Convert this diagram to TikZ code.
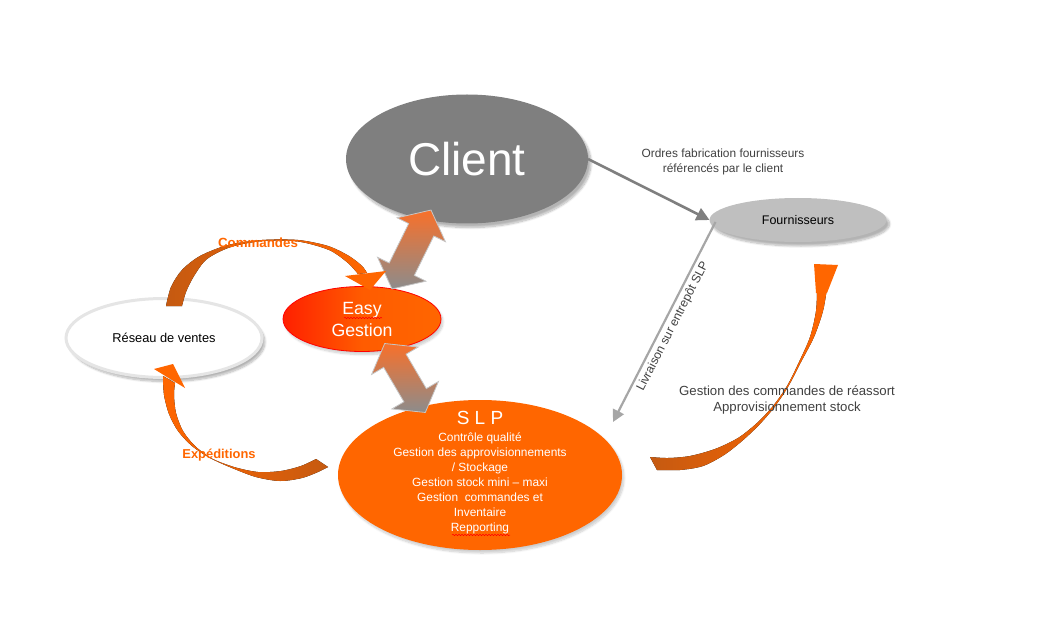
\documentclass[tikz,border=0pt]{standalone}
\usepackage{fontspec}
\setmainfont{Liberation Sans}
\usetikzlibrary{shapes.geometric,arrows.meta,shadows.blur,decorations.pathmorphing,calc}
\definecolor{cgray}{HTML}{7F7F7F}
\definecolor{fgray}{HTML}{BFBFBF}
\definecolor{orangeA}{HTML}{FF6600}
\definecolor{orangeD}{HTML}{C55A11}
\definecolor{redA}{HTML}{FF2000}
\definecolor{txtgray}{HTML}{404040}
\definecolor{lgray}{HTML}{A6A6A6}
\definecolor{arrgray}{HTML}{8C8C8C}
\definecolor{arrorange}{HTML}{F8702A}
\newcommand{\fsz}[2]{\fontsize{#1}{#2}\selectfont}
\begin{document}
\begin{tikzpicture}[x=1pt,y=-1pt,
  ell/.style={ellipse, inner sep=0pt, outer sep=0pt},
  softshadow/.style={blur shadow={shadow xshift=3pt, shadow yshift=-4pt, shadow opacity=30, shadow blur steps=10}},
  dblarrow/.style={top color=arrorange, bottom color=arrgray, draw=gray!45, line width=0.8pt, line join=miter},
  grayarrow/.style={draw=cgray, line width=2.6pt, -{Triangle[length=13pt,width=13pt]}},
  livarrow/.style={draw=lgray, line width=2.2pt, -{Triangle[length=12pt,width=12pt]}},
  squiggle/.style={draw=red, line width=0.5pt, decorate, decoration={snake, amplitude=0.7pt, segment length=3pt}},
  olabel/.style={text=orangeA, font=\bfseries\fsz{13.3}{16}},
  glabel/.style={text=txtgray, align=center}]
\useasboundingbox (0,0) rectangle (1043,636);

% ---------- ellipses ----------
\node[ell, fill=cgray, minimum width=242pt, minimum height=129pt, softshadow,
      text=white, font=\fsz{46}{50}] (client) at (467,159) {Client};
\node[ell, fill=fgray, minimum width=177pt, minimum height=44pt, softshadow,
      font=\fsz{12.5}{15}] (fourn) at (798,220) {Fournisseurs};
\node[ell, fill=white, draw=gray!20, line width=3pt, minimum width=196pt, minimum height=79pt,
      softshadow, font=\fsz{12.8}{15}] (reseau) at (164,338) {Réseau de ventes};
\node[ell, fill=orangeA, minimum width=284pt, minimum height=150pt,
      blur shadow={shadow xshift=2pt, shadow yshift=-3pt, shadow opacity=20, shadow blur steps=8}] (slp) at (480,475) {};
\node[text=white, font=\fsz{19}{22}, inner sep=0pt] (slptitle) at (480,418) {S L P};
\node[text=white, align=center, font=\fsz{11.9}{15}, inner sep=0pt] (slpbody) at (480,483)
  {Contrôle qualité\\Gestion des approvisionnements\\/ Stockage\\Gestion stock mini – maxi\\Gestion\ \ commandes et\\Inventaire\\Repporting};
\node[ell, left color=redA, right color=orangeA, middle color=orangeA!85!redA, draw=red, line width=0.8pt,
      minimum width=158pt, minimum height=65pt, text=white, align=center, font=\fsz{17.7}{22},
      blur shadow={shadow xshift=2pt, shadow yshift=-3pt, shadow opacity=20, shadow blur steps=8}] (easy) at (362,319) {Easy\\Gestion};
\draw[squiggle] (344,318) -- (382,318);
\draw[squiggle] (452,535) -- (510,535);

% ---------- double block arrows ----------
\begin{scope}[shift={(411.5,249.5)}, rotate=63.7]
  \path[dblarrow] (44,0) -- (22,27) -- (22,14) -- (-22,14) -- (-22,27) -- (-44,0)
    -- (-22,-27) -- (-22,-14) -- (22,-14) -- (22,-27) -- cycle;
\end{scope}
\begin{scope}[shift={(405,378)}, rotate=-59.5]
  \path[dblarrow] (40,0) -- (20,27) -- (20,13) -- (-20,13) -- (-20,27) -- (-40,0)
    -- (-20,-27) -- (-20,-13) -- (20,-13) -- (20,-27) -- cycle;
\end{scope}

% ---------- gray connectors ----------
\draw[grayarrow] (client.east) -- (fourn.west);
\node[glabel, font=\fsz{11.9}{14.5}] (ordres) at (723,162) {Ordres fabrication fournisseurs\\référencés par le client};
\coordinate (livStart) at ($(fourn.west)+(6,2)$);
\coordinate (livEnd) at (613,422);
\draw[livarrow] (livStart) -- node[sloped, below, text=txtgray, font=\fsz{12.2}{14}, inner sep=3pt] (livlabel) {Livraison sur entrepôt SLP} (livEnd);

% ---------- curved arrows ----------
% Commandes
\fill[left color=orangeD, right color=orangeA]
  plot[smooth] coordinates {(166,306) (171,287) (182,270) (200,256) (228,245) (262,240) (298,240) (328,246) (349,256) (362,266) (367,273)}
  -- plot[smooth] coordinates {(358,274) (348,263) (329,250) (298,241.5) (263,241) (231,247) (207,259) (194,276) (186,292) (182,306)}
  -- cycle;
\fill[orangeA] (345,276) -- (386,271) -- (370,290) -- cycle;
\node[olabel] (commandes) at (258,243) {Commandes};

% Expeditions
\fill[left color=orangeA, right color=orangeD]
  plot[smooth] coordinates {(163,376) (164,395) (169,414) (178,431) (192,446) (210,458) (232,468) (256,477) (280,481) (302,478) (318,472) (328,467)}
  -- plot[smooth] coordinates {(316,459) (301,466) (281,471) (258,472) (234,467) (212,458.5) (195,446) (183,431) (176,413) (174,395) (175,383)}
  -- cycle;
\fill[orangeA] (154,369) -- (173,364) -- (185,388) -- cycle;
\node[olabel, font=\bfseries\fsz{12.9}{16}] (expeditions) at (219,455) {Expéditions};

% Reassort
\fill[left color=orangeD, right color=orangeA]
  plot[smooth] coordinates {(650,457) (668,458) (690,456) (715,449) (738,438) (757,423) (773,406) (787,386) (799,362) (810,337) (816,311) (817,288)}
  -- plot[smooth] coordinates {(827,288) (823,311) (814,337) (801,362) (788.5,386) (774.5,407) (759,425) (742,441) (724,455) (703,466) (680,470) (657,470)}
  -- cycle;
\fill[orangeA] (814,264) -- (838,265) -- (827,293) -- (816,293) -- cycle;
\node[glabel, font=\fsz{13.2}{16.5}] (reassort) at (787,400) {Gestion des commandes de réassort\\Approvisionnement stock};
\end{tikzpicture}
\end{document}
